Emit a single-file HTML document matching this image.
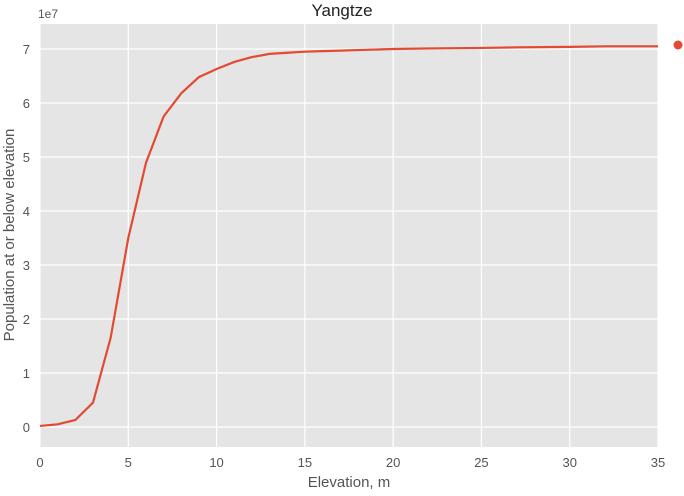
<!DOCTYPE html>
<html><head><meta charset="utf-8"><style>
body{margin:0;background:#fff;font-family:"Liberation Sans",sans-serif}
svg text{font-family:"Liberation Sans",sans-serif;fill:#555}
</style></head><body>
<svg id="chart" width="684" height="491">
<rect x="40" y="24" width="618" height="423" fill="#e5e5e5"/>
<g id="grid"></g><g id="ticks"></g>
<path id="line" fill="none" stroke="#e24a33" stroke-width="2.2"/>
<circle cx="678" cy="45" r="4.5" fill="#e24a33"/>
<text x="342" y="16" text-anchor="middle" font-size="17" style="fill:#222">Yangtze</text>
<text x="38" y="18" font-size="12">1e7</text>
<text x="349" y="487" text-anchor="middle" font-size="15">Elevation, m</text>
<text transform="translate(14,235) rotate(-90)" text-anchor="middle" font-size="15">Population at or below elevation</text>
</svg>
<script>
const elevations=[0,1,2,3,4,5,6,7,8,9,10,11,12,13,14,15,16,17,18,19,20,22,25,27,30,32,35];
const population=[0.02,0.05,0.13,0.45,1.65,3.5,4.89,5.75,6.18,6.48,6.63,6.76,6.85,6.91,6.93,6.95,6.96,6.97,6.98,6.99,7.0,7.01,7.02,7.03,7.04,7.05,7.05];
const xTicks=[0,5,10,15,20,25,30,35];
const yTicks=[0,1,2,3,4,5,6,7];
const X=v=>40+v*(618/35);
const Y=v=>427-v*54;
const ns="http://www.w3.org/2000/svg";
const grid=document.getElementById('grid'),ticks=document.getElementById('ticks');
xTicks.forEach(t=>{
 const l=document.createElementNS(ns,'line');
 l.setAttribute('x1',X(t));l.setAttribute('x2',X(t));l.setAttribute('y1',24);l.setAttribute('y2',447);
 l.setAttribute('stroke','#fff');l.setAttribute('stroke-width','1.2');
 
 
 grid.appendChild(l);
 const tx=document.createElementNS(ns,'text');
 tx.setAttribute('x',X(t));tx.setAttribute('y',467);tx.setAttribute('text-anchor','middle');tx.setAttribute('font-size','13');
 tx.textContent=t;
 
 
 ticks.appendChild(tx);
});
yTicks.forEach(t=>{
 const l=document.createElementNS(ns,'line');
 l.setAttribute('x1',40);l.setAttribute('x2',658);l.setAttribute('y1',Y(t));l.setAttribute('y2',Y(t));
 l.setAttribute('stroke','#fff');l.setAttribute('stroke-width','1.2');
 
 
 grid.appendChild(l);
 const tx=document.createElementNS(ns,'text');
 tx.setAttribute('x',30);tx.setAttribute('y',Y(t)+5);tx.setAttribute('text-anchor','end');tx.setAttribute('font-size','13');
 tx.textContent=t;
 
 
 ticks.appendChild(tx);
});
document.getElementById('line').setAttribute('d',elevations.map((e,i)=>(i?'L':'M')+X(e)+','+Y(population[i])).join(''));
</script>
</body></html>
